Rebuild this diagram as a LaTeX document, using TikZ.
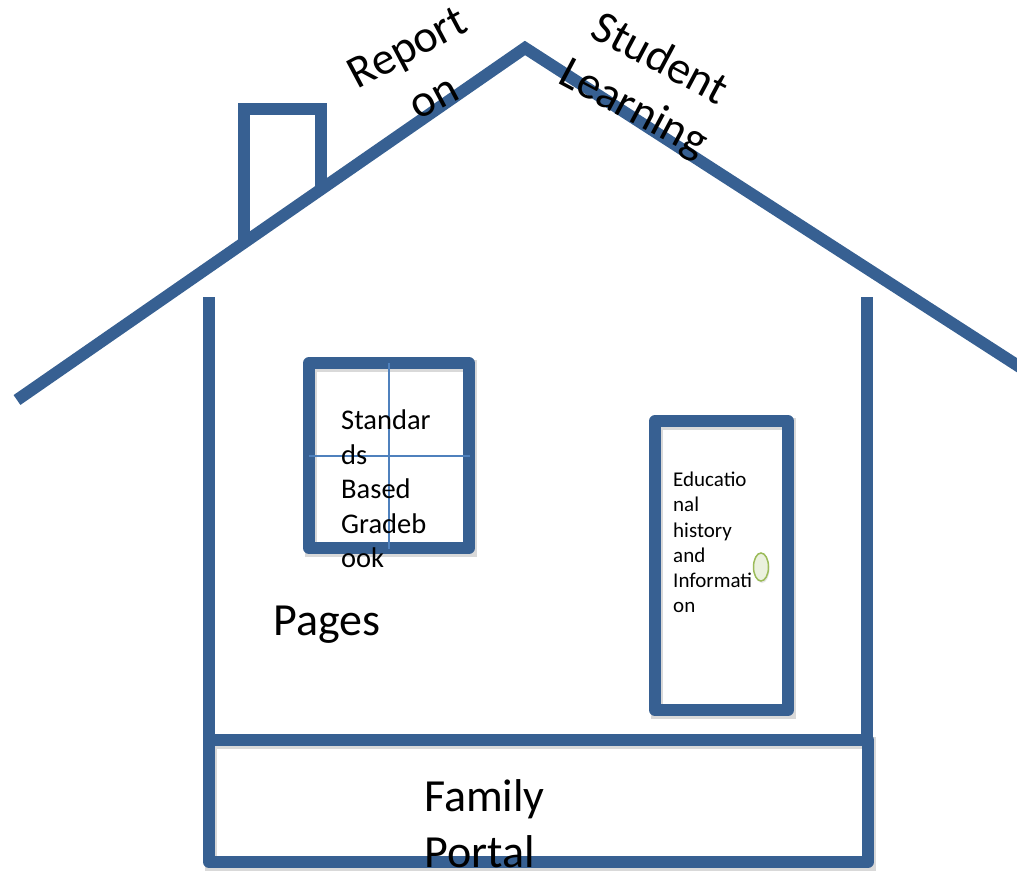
\documentclass[tikz,border=0pt]{standalone}
\usepackage{fontspec}
\setmainfont{Carlito}
\usetikzlibrary{calc,positioning,shapes,shadows}
\definecolor{houseblue}{RGB}{55,96,146}
\definecolor{barblue}{RGB}{79,129,189}
\definecolor{knobfill}{RGB}{235,241,222}
\definecolor{knobline}{RGB}{155,187,89}

\begin{document}
\begin{tikzpicture}[x=1pt,y=-1pt,inner sep=0pt,
  wall/.style={houseblue,line width=12pt},
  shade/.style={preaction={draw=black,opacity=0.15,line width=12pt,transform canvas={xshift=2pt,yshift=-3pt}}},
  frame/.style={wall,shade,line join=round},
  bar/.style={barblue,line width=1.5pt},
  knob/.style={ellipse,draw=knobline,fill=knobfill,line width=1.5pt,minimum width=15pt,minimum height=28pt,
    drop shadow={opacity=0.2,shadow xshift=1pt,shadow yshift=-2pt}},
  bigtext/.style={font=\fontsize{46}{56}\selectfont},
  wintext/.style={font=\fontsize{28.5}{34.5}\selectfont,align=left,anchor=north west},
  doortext/.style={font=\fontsize{21}{25.2}\selectfont,align=left,anchor=north west}]
\useasboundingbox (0,0) rectangle (1017,870);
\clip (0,0) rectangle (1017,870);

\coordinate (A) at (17,400);
\coordinate (B) at (525,48);
\coordinate (C) at (1040,380);
\coordinate (D) at (244,243);
\coordinate (E) at (244,109);
\coordinate (F) at (321,109);
\coordinate (G) at (321,189);
\coordinate (H) at (209,297);
\coordinate (I) at (209,740);
\coordinate (J) at (867,297);
\coordinate (K) at (867,740);

\draw[wall] (A) -- (B) -- (C);
\draw[wall] (D) -- (E) -- (F) -- (G);
\draw[wall] (H) -- (I);
\draw[wall] (J) -- (K);
\draw[frame] (I) rectangle (868,862);

\draw[frame] (309,363) rectangle (469,548);
\draw[bar] (389,363) -- (389,549);
\draw[bar] (309,456) -- (470,456);

\draw[frame] (655,421) rectangle (788,710);
\node[knob] (knob) at (761,567) {};

\node[wintext] (grades) at (341,410) {Standar\\ds\\Based\\Gradeb\\ook};
\node[doortext] (history) at (673,472) {Educatio\\nal\\history\\and\\Informati\\on};
\node[bigtext,anchor=base west] (pages) at (273,635) {Pages};
\node[bigtext,align=left,anchor=north west] (portal) at (424,779) {Family\\Portal};
\node[bigtext,align=center,rotate=28] (report) at (420,72) {Report\\on};
\node[bigtext,align=center,rotate=-28] (student) at (646,85) {Student\\Learning};

\end{tikzpicture}
\end{document}
